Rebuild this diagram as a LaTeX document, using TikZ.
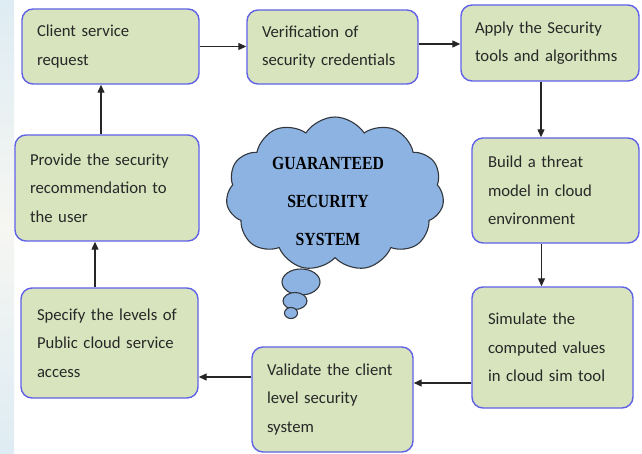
\documentclass[tikz,border=0pt]{standalone}
\usepackage{fontspec}
\setmainfont{Carlito}
\newfontfamily\cloudfont[FakeStretch=0.85]{Liberation Serif}
\usetikzlibrary{arrows.meta,shapes.symbols,calc}
\definecolor{boxfill}{RGB}{215,228,189}
\definecolor{boxline}{RGB}{96,96,232}
\definecolor{cloudfill}{RGB}{141,179,226}
\definecolor{cloudline}{RGB}{50,55,62}
\definecolor{txt}{RGB}{40,40,40}
\definecolor{bgA}{RGB}{222,236,243}
\definecolor{bgB}{RGB}{246,246,242}
\tikzset{
  stepbox/.style={draw=boxline, line width=1.4pt, fill=boxfill, rounded corners=11pt,
    align=left, inner xsep=15pt, inner ysep=0pt, text=txt,
    font=\fontsize{16.7}{28.5}\selectfont},
  arr/.style={draw=black!85, line width=1.2pt, -{Triangle[length=8pt,width=7pt]}},
  bubble/.style={draw=cloudline, line width=1.1pt, fill=cloudfill},
}
\begin{document}
\begin{tikzpicture}[x=1pt,y=-1pt]
\useasboundingbox (0,0) rectangle (642,454);
\fill[white] (0,0) rectangle (642,454);
\shade[top color=bgA, bottom color=bgA, middle color=bgB] (0,0) rectangle (14,454);

\node[stepbox, text width=147pt, minimum height=75pt] (b1) at (110.5,46.5) {Client service\\request};
\node[stepbox, text width=141pt, minimum height=74pt] (b2) at (332.5,47) {Verification of\\security credentials};
\node[stepbox, text width=150pt, minimum height=76pt, inner xsep=14pt] (b3) at (550,43) {Apply the Security\\tools and algorithms};
\node[stepbox, text width=135pt, minimum height=105pt, inner xsep=16pt] (b4) at (555.5,190.5) {Build a threat\\model in cloud\\environment};
\node[stepbox, text width=129pt, minimum height=121pt, inner xsep=16pt] (b5) at (552.5,347.5) {Simulate the\\computed values\\in cloud sim tool};
\node[stepbox, text width=131pt, minimum height=105pt] (b6) at (332.5,399.5) {Validate the client\\level security\\system};
\node[stepbox, text width=145pt, minimum height=110pt, inner xsep=16pt] (b7) at (109.5,343) {Specify the levels of\\Public cloud service\\access};
\node[stepbox, text width=154pt, minimum height=106pt] (b8) at (107,188) {Provide the security\\recommendation to\\the user};

\draw[arr] (b1.east) -- (b1.east -| b2.west);
\draw[arr] ([yshift=3pt]b2.east) -- ([yshift=3pt]b2.east -| b3.west);
\draw[arr] ([xshift=-9pt]b3.south) -- ([xshift=-9pt]b3.south |- b4.north);
\draw[arr] ([xshift=-14pt]b4.south) -- ([xshift=-14pt]b4.south |- b5.north);
\draw[arr] ([yshift=-35.5pt]b5.west) -- ([yshift=-35.5pt]b5.west -| b6.east);
\draw[arr] ([yshift=22.5pt]b6.west) -- ([yshift=22.5pt]b6.west -| b7.east);
\draw[arr] ([xshift=-14.5pt]b7.north) -- ([xshift=-14.5pt]b7.north |- b8.south);
\draw[arr] ([xshift=-6pt]b8.north) -- ([xshift=-6pt]b8.north |- b1.south);

\draw[bubble] (301,282) ellipse [x radius=19, y radius=13];
\node[cloud, cloud puffs=11, cloud puff arc=115, cloud ignores aspect, draw=cloudline, line width=1.1pt,
  fill=cloudfill, minimum width=218pt, minimum height=154pt, inner sep=0pt] (cl) at (335,194) {};
\draw[bubble] (295,301) ellipse [x radius=12, y radius=8.5];
\draw[bubble] (291,313) ellipse [x radius=6.5, y radius=5.5];
\node[align=center, text=black, font=\cloudfont\bfseries\fontsize{18.5}{38}\selectfont] (ct) at (328,201) {GUARANTEED\\SECURITY\\SYSTEM};
\end{tikzpicture}
\end{document}
